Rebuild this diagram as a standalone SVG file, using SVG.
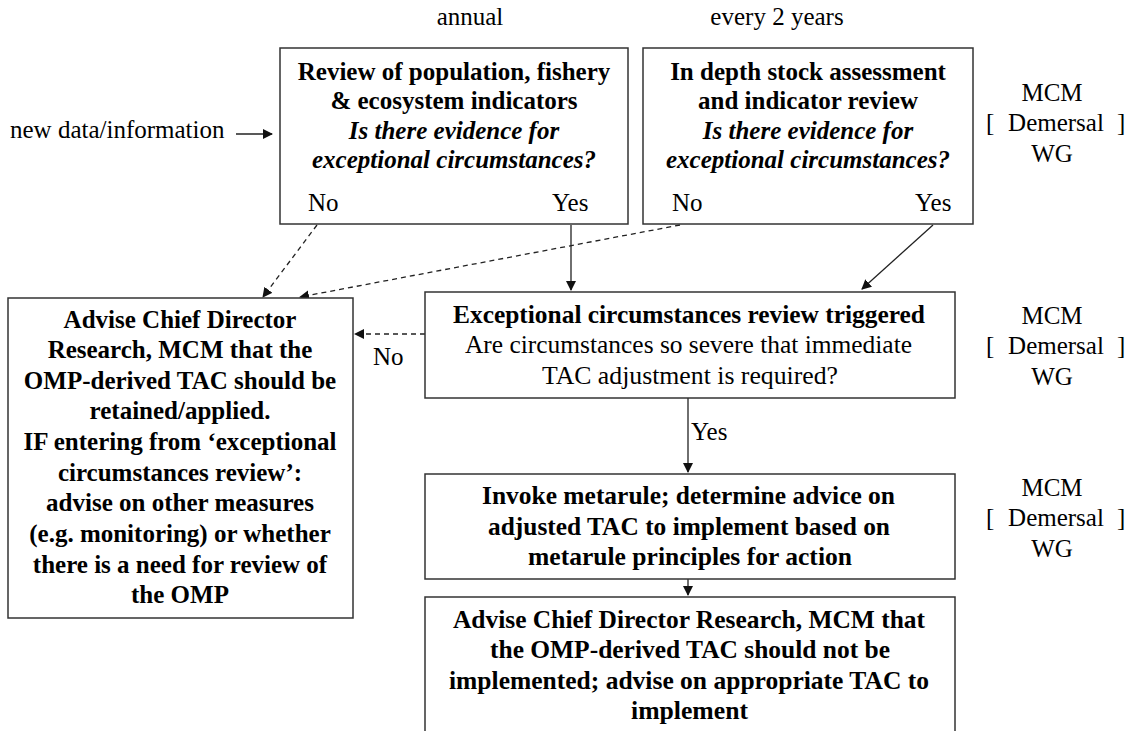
<svg xmlns="http://www.w3.org/2000/svg" width="1130" height="731" viewBox="0 0 1130 731">
<style>
text{font-family:"Liberation Serif","Times New Roman",serif;font-size:25px;fill:#000}
.b{font-weight:bold}
.i{font-style:italic;font-weight:bold}
.m{text-anchor:middle}
.box{fill:#fff;stroke:#333;stroke-width:1.5}
.ln{stroke:#222;stroke-width:1.3;fill:none}
.dash{stroke-dasharray:5,4}
</style>
<defs>
<marker id="ah" viewBox="0 0 10 10" refX="9" refY="5" markerWidth="10" markerHeight="10" markerUnits="userSpaceOnUse" orient="auto">
<path d="M0,0 L10,5 L0,10 z" fill="#111"/>
</marker>
</defs>
<rect width="1130" height="731" fill="#fff"/>
<text x="470" y="25" class="m">annual</text>
<text x="777" y="25" class="m">every 2 years</text>
<text x="10" y="138">new data/information</text>
<g id="conn">
<line class="ln" x1="236" y1="134" x2="272" y2="134" marker-end="url(#ah)"/>
<line class="ln dash" x1="317" y1="225" x2="263" y2="297" marker-end="url(#ah)"/>
<line class="ln" x1="571" y1="225" x2="571" y2="290" marker-end="url(#ah)"/>
<line class="ln dash" x1="680" y1="225" x2="300" y2="297" marker-end="url(#ah)"/>
<line class="ln" x1="933" y1="225" x2="862" y2="289" marker-end="url(#ah)"/>
<line class="ln dash" x1="425" y1="334" x2="355" y2="334" marker-end="url(#ah)"/>
<line class="ln" x1="688" y1="398" x2="688" y2="472" marker-end="url(#ah)"/>
<line class="ln" x1="688" y1="579" x2="688" y2="595" marker-end="url(#ah)"/>
<text x="373" y="365">No</text>
<text x="691" y="440">Yes</text>
</g>
<g id="n1">
<rect class="box" x="280" y="48" width="348" height="176"/>
<text x="454" y="80" class="b m">Review of population, fishery</text>
<text x="454" y="109" class="b m">&amp; ecosystem indicators</text>
<text x="454" y="139" class="i m">Is there evidence for</text>
<text x="454" y="168" class="i m">exceptional circumstances?</text>
<text x="308" y="211">No</text>
<text x="552" y="211">Yes</text>
</g>
<g id="n2">
<rect class="box" x="643" y="48" width="330" height="176"/>
<text x="808" y="80" class="b m">In depth stock assessment</text>
<text x="808" y="109" class="b m">and indicator review</text>
<text x="808" y="139" class="i m">Is there evidence for</text>
<text x="808" y="168" class="i m">exceptional circumstances?</text>
<text x="672" y="211">No</text>
<text x="915" y="211">Yes</text>
</g>
<g id="n3">
<rect class="box" x="8" y="298" width="345" height="320"/>
<text x="180" y="328" class="b m">Advise Chief Director</text>
<text x="180" y="358" class="b m">Research, MCM that the</text>
<text x="180" y="389" class="b m">OMP-derived TAC should be</text>
<text x="180" y="419" class="b m">retained/applied.</text>
<text x="180" y="450" class="b m">IF entering from ‘exceptional</text>
<text x="180" y="481" class="b m">circumstances review’:</text>
<text x="180" y="511" class="b m">advise on other measures</text>
<text x="180" y="542" class="b m">(e.g. monitoring) or whether</text>
<text x="180" y="573" class="b m">there is a need for review of</text>
<text x="180" y="603" class="b m">the OMP</text>
</g>
<g id="n4">
<rect class="box" x="425" y="292" width="530" height="106"/>
<text x="453" y="323" class="b" textLength="472" lengthAdjust="spacingAndGlyphs">Exceptional circumstances review triggered</text>
<text x="465" y="353" textLength="447" lengthAdjust="spacingAndGlyphs">Are circumstances so severe that immediate</text>
<text x="542" y="384" textLength="296" lengthAdjust="spacingAndGlyphs">TAC adjustment is required?</text>
</g>
<g id="n5">
<rect class="box" x="425" y="474" width="530" height="105"/>
<text x="482" y="504" class="b" textLength="413" lengthAdjust="spacingAndGlyphs">Invoke metarule; determine advice on</text>
<text x="488" y="535" class="b" textLength="402" lengthAdjust="spacingAndGlyphs">adjusted TAC to implement based on</text>
<text x="528" y="565" class="b" textLength="324" lengthAdjust="spacingAndGlyphs">metarule principles for action</text>
</g>
<g id="n6">
<rect class="box" x="425" y="597" width="530" height="145"/>
<text x="453" y="628" class="b" textLength="472" lengthAdjust="spacingAndGlyphs">Advise Chief Director Research, MCM that</text>
<text x="490" y="658" class="b" textLength="400" lengthAdjust="spacingAndGlyphs">the OMP-derived TAC should not be</text>
<text x="449" y="689" class="b" textLength="480" lengthAdjust="spacingAndGlyphs">implemented; advise on appropriate TAC to</text>
<text x="631" y="719" class="b" textLength="117" lengthAdjust="spacingAndGlyphs">implement</text>
</g>
<g id="wg1">
<text x="1052" y="101" class="m">MCM</text>
<text x="986" y="131">[</text>
<text x="1056" y="131" class="m">Demersal</text>
<text x="1117" y="131">]</text>
<text x="1052" y="162" class="m">WG</text>
</g>
<g id="wg2">
<text x="1052" y="324" class="m">MCM</text>
<text x="986" y="354">[</text>
<text x="1056" y="354" class="m">Demersal</text>
<text x="1117" y="354">]</text>
<text x="1052" y="385" class="m">WG</text>
</g>
<g id="wg3">
<text x="1052" y="496" class="m">MCM</text>
<text x="986" y="526">[</text>
<text x="1056" y="526" class="m">Demersal</text>
<text x="1117" y="526">]</text>
<text x="1052" y="557" class="m">WG</text>
</g>
</svg>
